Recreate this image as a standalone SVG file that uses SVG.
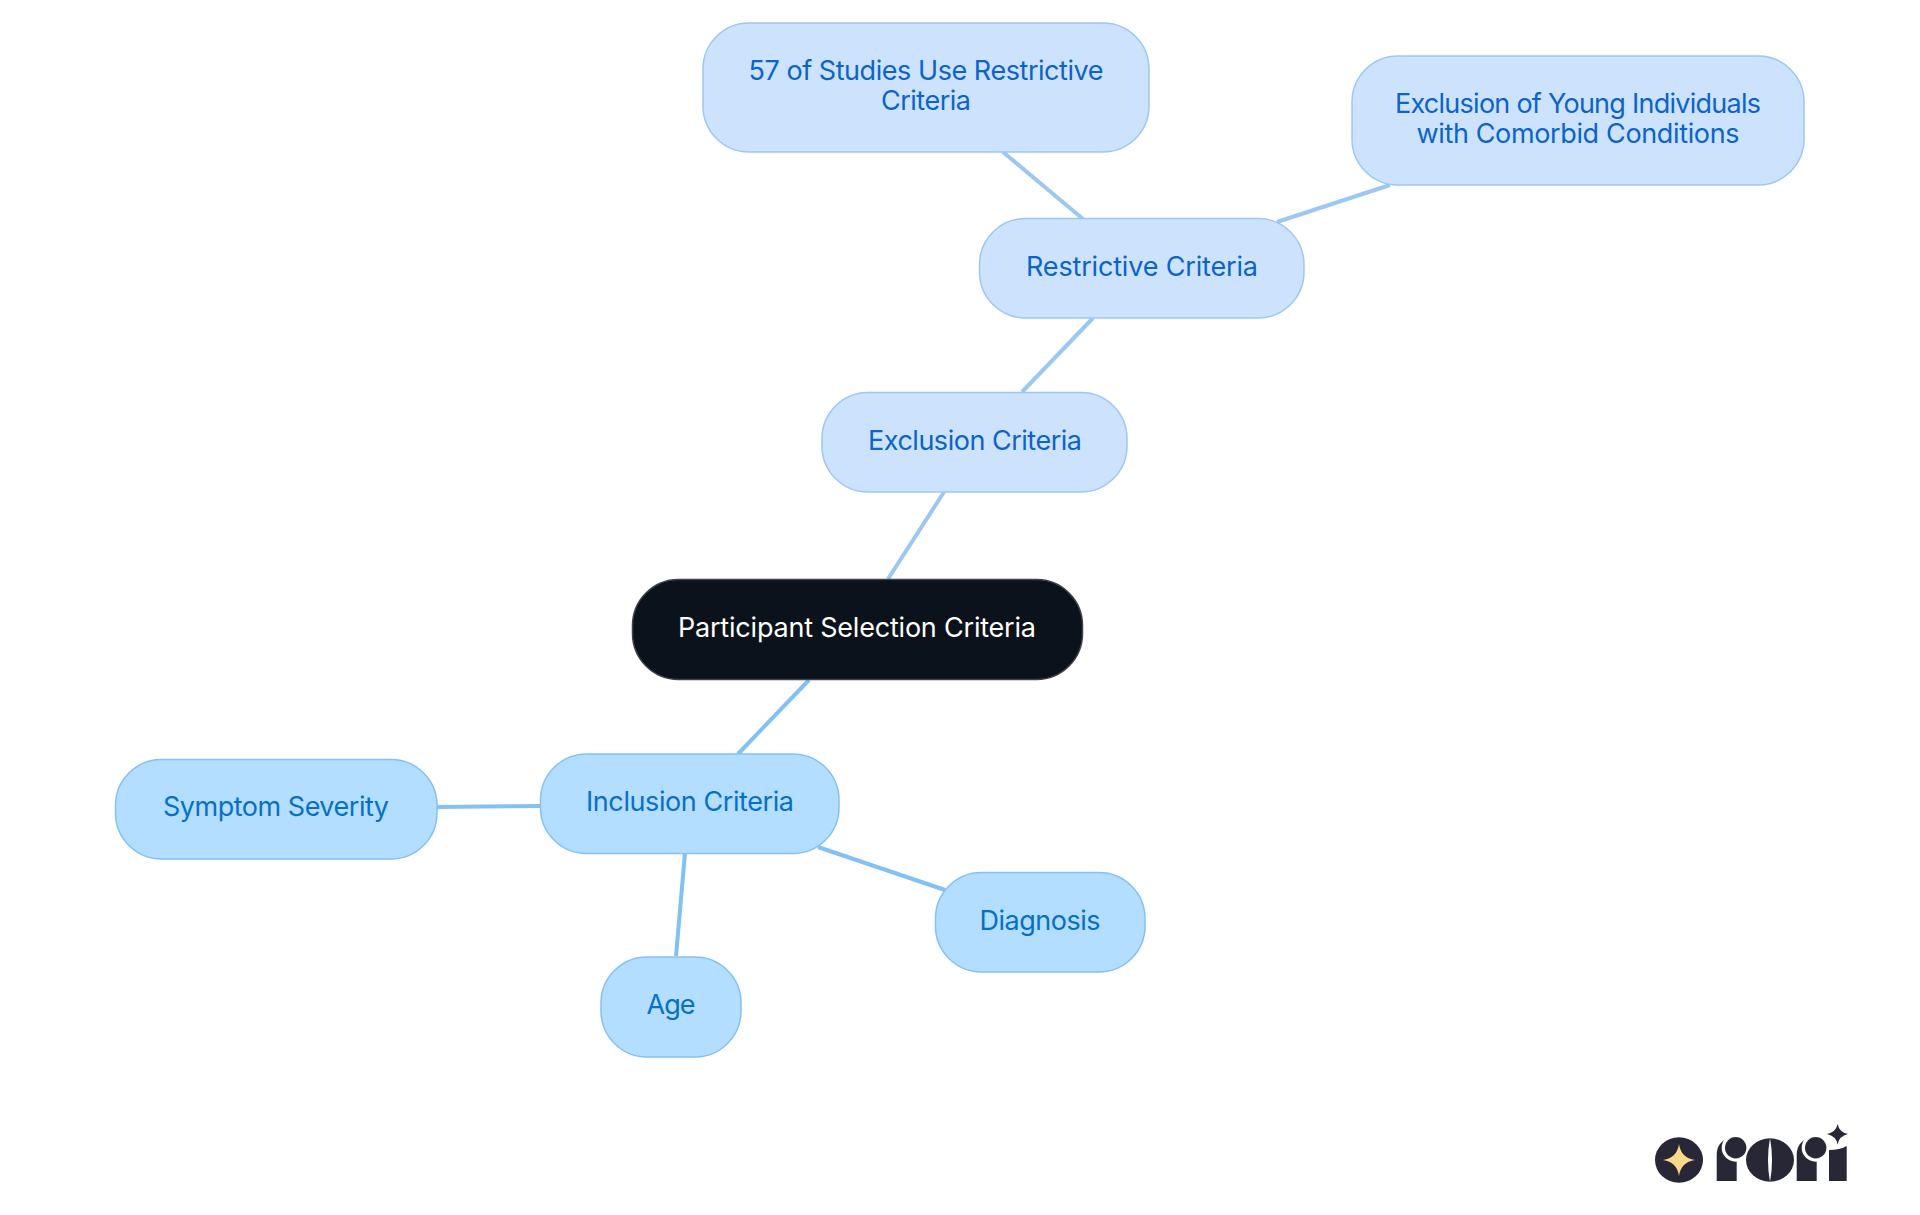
<svg xmlns="http://www.w3.org/2000/svg" width="1920" height="1215" viewBox="0 0 1920 1215">
<style>
text{font-family:"Inter","Noto Sans","Liberation Sans",sans-serif;font-size:27px;text-anchor:middle;font-weight:400}
.c1 line{stroke:#82c1f5;stroke-width:4;fill:none}
.c2 line{stroke:#9dc7f3;stroke-width:4;fill:none}
.root rect{fill:#0b121b;stroke:#3d4248;stroke-width:1.5}
.root text{fill:#fff}
.a rect{fill:#b4deff;stroke:#82c1f5;stroke-width:1.5}
.a text{fill:#0670c8}
.b rect{fill:#cde3fd;stroke:#9dc7f3;stroke-width:1.5}
.b text{fill:#0b63cb}
.logo{fill:#282735}
</style>
<rect width="1920" height="1215" fill="#fff"/>
<g id="connectors">
<g class="c1">
<line x1="809" y1="680" x2="738" y2="754"/>
<line x1="540" y1="806" x2="437" y2="807"/>
<line x1="685" y1="853" x2="676" y2="956"/>
<line x1="818" y1="847" x2="945" y2="890"/>
</g>
<g class="c2">
<line x1="888" y1="579" x2="944" y2="492"/>
<line x1="1022" y1="392" x2="1093" y2="318"/>
<line x1="1003" y1="152" x2="1083" y2="219"/>
<line x1="1277" y1="222" x2="1390" y2="185"/>
</g>
</g>
<g id="root" class="root"><rect x="632.500" y="579.500" width="450" height="100" rx="46"/><text x="857" y="637" textLength="358">Participant Selection Criteria</text></g>
<g id="inclusion" class="a"><rect x="540.500" y="754" width="298.500" height="99.500" rx="46"/><text x="690" y="811" textLength="208">Inclusion Criteria</text></g>
<g id="symptom" class="a"><rect x="115.500" y="759.500" width="321.500" height="99.500" rx="46"/><text x="276" y="816" textLength="226">Symptom Severity</text></g>
<g id="age" class="a"><rect x="601" y="957" width="140" height="100" rx="46"/><text x="671" y="1014" textLength="49">Age</text></g>
<g id="diagnosis" class="a"><rect x="935.500" y="872.500" width="209.500" height="99.500" rx="46"/><text x="1040" y="930" textLength="121">Diagnosis</text></g>
<g id="exclusion" class="b"><rect x="822" y="392.500" width="305" height="99.500" rx="46"/><text x="975" y="450" textLength="214">Exclusion Criteria</text></g>
<g id="restrictive" class="b"><rect x="979.500" y="218.500" width="324.500" height="99.500" rx="46"/><text x="1142" y="276" textLength="232">Restrictive Criteria</text></g>
<g id="studies" class="b"><rect x="703" y="23" width="446" height="129" rx="46"/><text x="926" y="80" textLength="355">57 of Studies Use Restrictive</text><text x="926" y="110" textLength="90">Criteria</text></g>
<g id="young" class="b"><rect x="1352" y="56" width="452" height="129" rx="46"/><text x="1578" y="113" textLength="366">Exclusion of Young Individuals</text><text x="1578" y="143" textLength="323">with Comorbid Conditions</text></g>
<g id="logo">
<ellipse class="logo" cx="1679" cy="1160" rx="24" ry="22.700"/>
<path fill="#fcd98a" d="M1679 1144Q1681 1158 1695 1160Q1681 1162 1679 1176Q1677 1162 1663 1160Q1677 1158 1679 1144Z"/>
<path class="logo" d="M1716.700 1181V1155Q1716.700 1142 1729 1138L1736.700 1138V1181Z"/>
<circle cx="1735.700" cy="1147.700" r="14" fill="#fff"/>
<circle class="logo" cx="1735.700" cy="1147.700" r="10.700"/>
<ellipse class="logo" cx="1770" cy="1160" rx="24" ry="21.700"/>
<path fill="#fff" d="M1770 1138Q1766 1160 1770 1182Q1774 1160 1770 1138Z"/>
<path class="logo" d="M1796.700 1181V1155Q1796.700 1142 1809 1138L1816.700 1138V1181Z"/>
<circle cx="1815.700" cy="1147.700" r="14" fill="#fff"/>
<circle class="logo" cx="1815.700" cy="1147.700" r="10.700"/>
<path class="logo" d="M1829 1181V1150Q1840 1150 1846.700 1146V1181Z"/>
<path class="logo" d="M1837.700 1124Q1839 1132 1848 1134Q1839 1136 1837.700 1144.500Q1836 1136 1827 1134Q1836 1132 1837.700 1124Z"/>
</g>
</svg>
